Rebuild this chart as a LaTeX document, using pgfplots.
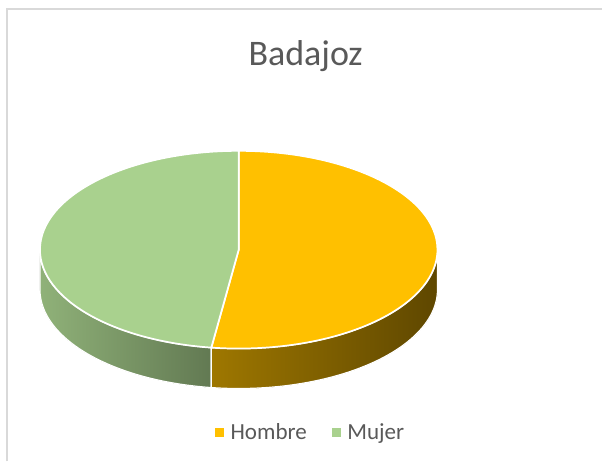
\documentclass[border=0pt]{standalone}
\usepackage{pgfplots}
\pgfplotsset{compat=1.18}
\usepackage{fontspec}
\setmainfont{Carlito}

\definecolor{hombre}{HTML}{FFC000}
\definecolor{mujer}{HTML}{A9D18E}
\definecolor{textgray}{HTML}{595959}
\definecolor{frame}{HTML}{D9D9D9}

% shares (percent)
\def\hombre{52.2}
\def\mujer{47.8}

% geometry of the tilted pie, in pixel units of the axis (1px = 0.75pt)
\def\cx{239}\def\cy{212}\def\rx{199}\def\ry{99}
\pgfmathsetmacro\split{90-3.6*\hombre}
\pgfmathsetmacro\splitb{360+\split}
\pgfmathsetmacro\splitx{\cx+\rx*cos(\split)}
\pgfmathsetmacro\splity{\cy+\ry*sin(\split)}
\pgfmathsetmacro\topy{\cy+\ry}
\pgfmathsetmacro\leftx{\cx-\rx}
\pgfmathsetmacro\rightx{\cx+\rx}

\begin{document}
\begin{tikzpicture}
\begin{axis}[
  scale only axis, width=452.25pt, height=346.5pt,
  xmin=0, xmax=603, ymin=0, ymax=462,
  hide axis, clip=false,
  legend columns=2,
  legend image code/.code={\fill[#1] (0pt,-3pt) rectangle (6pt,3pt); \path (9pt,0);},
  legend style={at={(axis cs:311.5,29)}, anchor=center, draw=none, fill=none,
    font=\fontsize{17.3pt}{20pt}\selectfont, text=textgray,
    /tikz/every even column/.append style={column sep=17pt}},
]
\path (axis cs:0,0) rectangle (axis cs:603,462);
\draw[frame, line width=1.1pt] (axis cs:7,0) -- (axis cs:7,453) -- (axis cs:603,453);

% side walls
\fill[left color=mujer!85!black, right color=mujer!58!black, draw=white, line width=0.9pt]
  (axis cs:\leftx,\cy) arc[start angle=180, end angle=\splitb, x radius=149.25pt, y radius=74.25pt]
  -- ++(0,-30pt) arc[start angle=\splitb, end angle=180, x radius=149.25pt, y radius=74.25pt] -- cycle;
\fill[left color=hombre!62!black, middle color=hombre!42!black, right color=hombre!37!black, draw=white, line width=0.9pt]
  (axis cs:\splitx,\splity) arc[start angle=\split, end angle=0, x radius=149.25pt, y radius=74.25pt]
  -- ++(0,-30pt) arc[start angle=0, end angle=\split, x radius=149.25pt, y radius=74.25pt] -- cycle;

% top faces
\fill[hombre, draw=white, line width=1.3pt]
  (axis cs:\cx,\cy) -- (axis cs:\cx,\topy)
  arc[start angle=90, end angle=\split, x radius=149.25pt, y radius=74.25pt] -- cycle;
\fill[mujer, draw=white, line width=1.3pt]
  (axis cs:\cx,\cy) -- (axis cs:\cx,\topy)
  arc[start angle=90, end angle=\splitb, x radius=149.25pt, y radius=74.25pt] -- cycle;

\node[anchor=base, font=\fontsize{27pt}{30pt}\selectfont, text=textgray] at (axis cs:306,396) {Badajoz};

\addlegendimage{hombre}
\addlegendentry{Hombre}
\addlegendimage{mujer}
\addlegendentry{Mujer}
\end{axis}
\end{tikzpicture}
\end{document}
